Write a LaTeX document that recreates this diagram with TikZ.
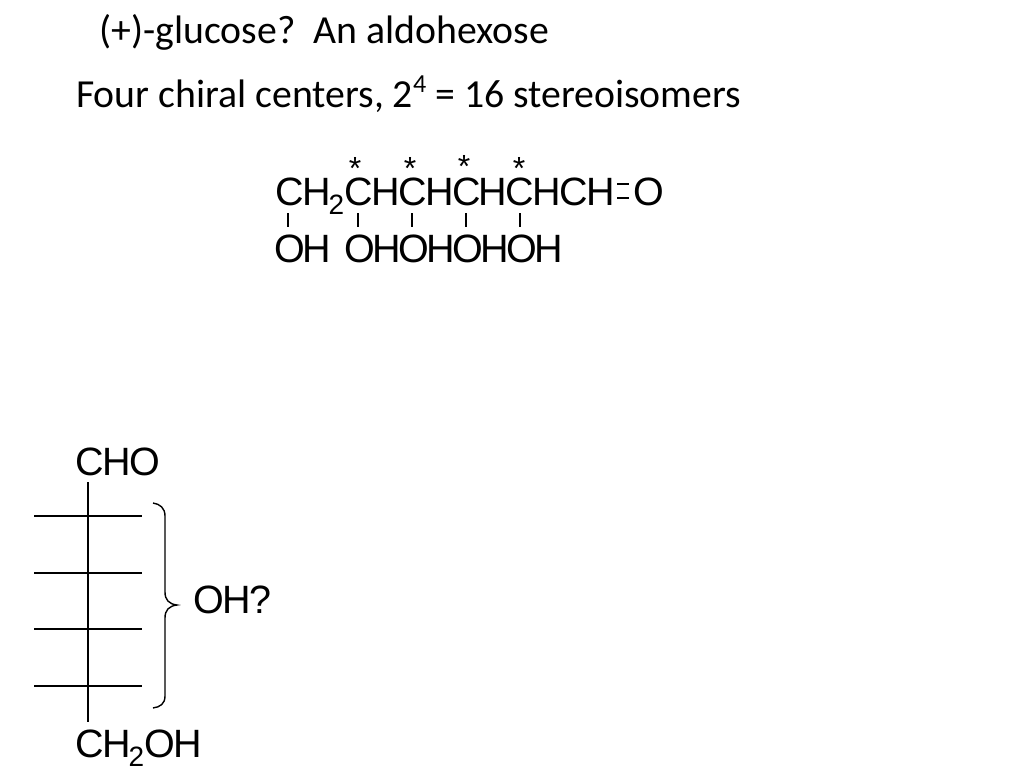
\documentclass[tikz,border=0pt]{standalone}
\usepackage{fontspec}
\setmainfont{Liberation Sans}
\newfontfamily\titlefont{Carlito}
\newfontfamily\chemfont[LetterSpace=-4]{Liberation Sans}
\newfontfamily\ohfont[LetterSpace=-6.5]{Liberation Sans}
\tikzset{
  x=1pt,y=-1pt,
  titletext/.style={anchor=base west,inner sep=0pt,font=\titlefont\fontsize{39.75}{40}\selectfont},
  chemtext/.style={anchor=base west,inner sep=0pt,font=\chemfont\fontsize{39.5}{40}\selectfont},
  ohtext/.style={anchor=base west,inner sep=0pt,font=\ohfont\fontsize{39.5}{40}\selectfont},
  startext/.style={anchor=base,inner sep=0pt,font=\fontsize{32}{32}\selectfont},
  bondline/.style={line width=1.5pt,black},
  fischerline/.style={line width=1.7pt,black},
  braceline/.style={line width=1.4pt,black}
}
\newcommand{\subtwo}{\kern-2pt\raisebox{-9pt}{\fontsize{28}{28}\selectfont 2}}
\begin{document}
\begin{tikzpicture}
\useasboundingbox (0,0) rectangle (1024,768);
\fill[white] (0,0) rectangle (1024,768);
\node[titletext] (t1) at (99.5,44) {(+)-glucose?\ \ An aldohexose};
\node[titletext] (t2) at (76,107) {Four chiral centers, 2\raisebox{0.36em}{\fontsize{26}{26}\selectfont 4} = 16 stereoisomers};
\node[startext] (s1) at (355,179) {*};
\node[startext] (s2) at (410,179) {*};
\node[startext] (s3) at (464,177) {*};
\node[startext] (s4) at (519,179) {*};
\node[chemtext] (chain) at (275,205) {CH\subtwo CHCHCHCHCH};
\node[chemtext] (oxy) at (633,205) {O};
\node[ohtext] (oh1) at (274,262) {OH};
\node[ohtext] (ohs) at (344,262) {OHOHOHOH};
\foreach \x in {288,358,412,466,520} \draw[bondline] (\x,213) -- (\x,227);
\draw[bondline] (617,184) -- (629,184);
\draw[bondline] (617,198) -- (629,198);
\node[chemtext] (cho) at (75,475) {CHO};
\node[chemtext] (ch2oh) at (75,757) {CH\subtwo OH};
\node[chemtext] (q) at (193,613) {OH?};
\draw[fischerline] (88,482) -- (88,722);
\foreach \y in {516,573,629,686} \draw[fischerline] (34,\y) -- (142,\y);
\draw[braceline] (153,503) .. controls (160,504) and (165,508) .. (165,516)
  -- (165,592) .. controls (165,600) and (169,604) .. (177,605)
  .. controls (169,606) and (165,610) .. (165,618)
  -- (165,696) .. controls (165,704) and (160,707) .. (153,708);
\end{tikzpicture}
\end{document}
